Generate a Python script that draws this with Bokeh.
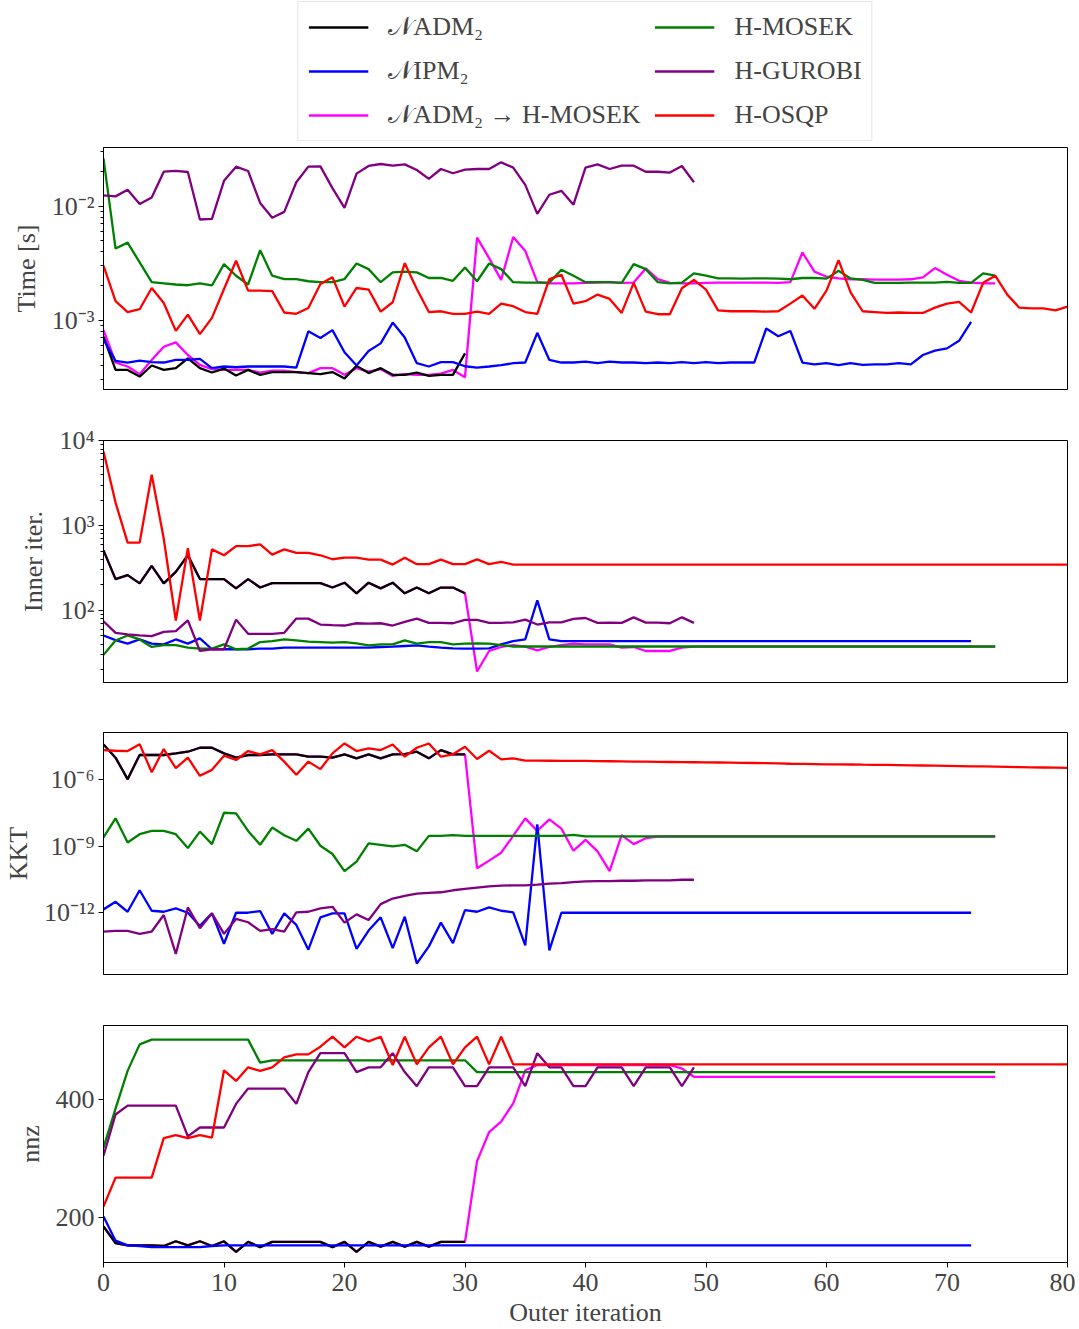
from bokeh.plotting import figure
from bokeh.models import Range1d, FixedTicker, CustomJSTickFormatter, Legend, LegendItem
from bokeh.layouts import column
from bokeh.embed import file_html
from bokeh.resources import INLINE

FONT = "Liberation Serif"

# ---------------- data ----------------
labels = ["𝒩ADM₂", "𝒩IPM₂", "𝒩ADM₂ → H-MOSEK", "H-MOSEK", "H-GUROBI", "H-OSQP"]
colors = ["black", "blue", "magenta", "green", "purple", "red"]
x_ticks = [0, 10, 20, 30, 40, 50, 60, 70, 80]
nnz_ticks = [200, 400]

# Time [s]
time_nadm = [7.2e-4, 3.67e-4, 3.67e-4, 3.21e-4, 4.01e-4, 3.67e-4, 3.8e-4, 4.64e-4, 3.8e-4, 3.48e-4,
             3.77e-4, 3.28e-4, 3.67e-4, 3.32e-4, 3.51e-4, 3.51e-4, 3.51e-4, 3.44e-4, 3.37e-4, 3.51e-4,
             3.09e-4, 3.98e-4, 3.44e-4, 3.8e-4, 3.32e-4, 3.32e-4, 3.48e-4, 3.25e-4, 3.32e-4, 3.32e-4,
             5.13e-4]
time_nipm = [6.8e-4, 4.4e-4, 4.26e-4, 4.43e-4, 4.29e-4, 4.26e-4, 4.49e-4, 4.49e-4, 4.58e-4, 3.8e-4,
             3.93e-4, 3.87e-4, 3.93e-4, 3.93e-4, 3.93e-4, 3.93e-4, 3.84e-4, 8.0e-4, 7.0e-4, 8.2e-4,
             5.24e-4, 4.01e-4, 5.38e-4, 6.27e-4, 9.55e-4, 7.07e-4, 4.2e-4, 3.93e-4, 4.29e-4, 4.29e-4,
             3.95e-4, 3.84e-4, 3.93e-4, 4.04e-4, 4.2e-4, 4.26e-4, 7.76e-4, 4.49e-4, 4.26e-4, 4.26e-4,
             4.34e-4, 4.2e-4, 4.34e-4, 4.26e-4, 4.26e-4, 4.2e-4, 4.26e-4, 4.2e-4, 4.29e-4, 4.2e-4,
             4.29e-4, 4.2e-4, 4.26e-4, 4.26e-4, 4.26e-4, 8.47e-4, 7.25e-4, 8.06e-4, 4.26e-4, 4.11e-4,
             4.2e-4, 4.04e-4, 4.2e-4, 4.07e-4, 4.11e-4, 4.11e-4, 4.2e-4, 4.11e-4, 4.96e-4, 5.41e-4,
             5.67e-4, 6.61e-4, 9.67e-4]
time_switch = [8.2e-4, 4.26e-4, 3.93e-4, 3.37e-4, 4.49e-4, 5.86e-4, 6.4e-4, 4.96e-4, 4.06e-4, 3.73e-4,
               3.67e-4, 3.67e-4, 3.67e-4, 3.48e-4, 3.62e-4, 3.62e-4, 3.51e-4, 3.44e-4, 3.8e-4, 3.8e-4,
               3.32e-4, 3.8e-4, 3.55e-4, 3.73e-4, 3.25e-4, 3.37e-4, 3.32e-4, 3.32e-4, 3.41e-4, 3.67e-4,
               3.17e-4, 5.31e-3, 3.51e-3, 2.26e-3, 5.38e-3, 4.06e-3, 2.16e-3, 2.11e-3, 2.11e-3, 2.11e-3,
               2.13e-3, 2.14e-3, 2.16e-3, 2.13e-3, 2.14e-3, 2.85e-3, 2.30e-3, 2.13e-3, 2.11e-3, 2.11e-3,
               2.13e-3, 2.14e-3, 2.14e-3, 2.14e-3, 2.14e-3, 2.14e-3, 2.13e-3, 2.16e-3, 3.93e-3, 2.67e-3,
               2.41e-3, 2.33e-3, 2.29e-3, 2.29e-3, 2.27e-3, 2.27e-3, 2.27e-3, 2.29e-3, 2.38e-3, 2.87e-3,
               2.51e-3, 2.22e-3, 2.14e-3, 2.11e-3, 2.11e-3]
time_mosek = [2.63e-2, 4.26e-3, 4.80e-3, 3.22e-3, 2.16e-3, 2.11e-3, 2.06e-3, 2.03e-3, 2.11e-3, 2.02e-3,
              3.11e-3, 2.46e-3, 2.06e-3, 4.12e-3, 2.46e-3, 2.30e-3, 2.30e-3, 2.20e-3, 2.16e-3, 2.16e-3,
              2.30e-3, 3.15e-3, 2.81e-3, 2.16e-3, 2.63e-3, 2.67e-3, 2.63e-3, 2.35e-3, 2.35e-3, 2.22e-3,
              2.91e-3, 2.20e-3, 3.15e-3, 2.81e-3, 2.16e-3, 2.14e-3, 2.14e-3, 2.14e-3, 2.78e-3, 2.46e-3,
              2.16e-3, 2.16e-3, 2.16e-3, 2.13e-3, 3.11e-3, 2.81e-3, 2.16e-3, 2.11e-3, 2.14e-3, 2.58e-3,
              2.46e-3, 2.33e-3, 2.33e-3, 2.32e-3, 2.33e-3, 2.33e-3, 2.32e-3, 2.29e-3, 2.35e-3, 2.36e-3,
              2.32e-3, 2.72e-3, 2.33e-3, 2.26e-3, 2.13e-3, 2.13e-3, 2.13e-3, 2.14e-3, 2.14e-3, 2.14e-3,
              2.17e-3, 2.13e-3, 2.13e-3, 2.58e-3, 2.46e-3]
time_gurobi = [0.01246, 0.01222, 0.01396, 0.01048, 0.01197, 0.02014, 0.02042, 0.0200, 0.00766, 0.00776,
               0.01672, 0.02228, 0.0204, 0.0107, 0.00792, 0.00893, 0.01627, 0.0223, 0.0224, 0.01443,
               0.00967, 0.01936, 0.02258, 0.0235, 0.0227, 0.02334, 0.02083, 0.0174, 0.02125, 0.0195,
               0.02098, 0.02125, 0.02125, 0.0243, 0.02184, 0.01543, 0.00858, 0.01263, 0.01368, 0.01034,
               0.02184, 0.02334, 0.02125, 0.0227, 0.0227, 0.0201, 0.0201, 0.01975, 0.02258, 0.01627]
time_osqp = [3.01e-3, 1.47e-3, 1.18e-3, 1.25e-3, 1.92e-3, 1.42e-3, 8.07e-4, 1.12e-3, 7.55e-4, 1.05e-3,
             1.88e-3, 3.33e-3, 1.82e-3, 1.82e-3, 1.80e-3, 1.17e-3, 1.14e-3, 1.28e-3, 2.08e-3, 2.38e-3,
             1.32e-3, 1.92e-3, 1.86e-3, 1.19e-3, 1.44e-3, 3.17e-3, 1.88e-3, 1.18e-3, 1.20e-3, 1.14e-3,
             1.14e-3, 1.19e-3, 1.14e-3, 1.40e-3, 1.33e-3, 1.18e-3, 1.14e-3, 2.30e-3, 2.51e-3, 1.40e-3,
             1.47e-3, 1.68e-3, 1.54e-3, 1.16e-3, 2.13e-3, 1.19e-3, 1.13e-3, 1.13e-3, 1.91e-3, 2.26e-3,
             1.86e-3, 1.22e-3, 1.20e-3, 1.20e-3, 1.20e-3, 1.19e-3, 1.20e-3, 1.40e-3, 1.65e-3, 1.26e-3,
             1.82e-3, 3.37e-3, 1.76e-3, 1.20e-3, 1.18e-3, 1.16e-3, 1.17e-3, 1.16e-3, 1.16e-3, 1.29e-3,
             1.40e-3, 1.45e-3, 1.17e-3, 2.13e-3, 2.46e-3, 1.68e-3, 1.29e-3, 1.27e-3, 1.27e-3, 1.22e-3,
             1.32e-3]

# Inner iterations
iter_nadm = [511, 234, 261, 208, 335, 208, 285, 447, 234, 234,
             234, 182, 234, 186, 210, 210, 210, 210, 210, 186,
             212, 159, 212, 182, 212, 159, 186, 159, 186, 186,
             159]
iter_nipm = [50.6, 44.6, 40.5, 45.4, 40.5, 39.7, 45.4, 40.5, 46.7, 34.8,
             34.8, 34.8, 34.8, 35.4, 35.4, 36.3, 36.3, 36.3, 36.3, 36.3,
             36.3, 36.3, 36.3, 37.0, 37.3, 38.0, 38.7, 37.3, 36.3, 35.7,
             35.4, 35.4, 35.7, 39.7, 43.4, 45.4, 131, 45.4, 43.4, 43.4,
             43.4, 43.4, 43.4, 43.4, 43.4, 43.4, 43.4, 43.4, 43.4, 43.4,
             43.4, 43.4, 43.4, 43.4, 43.4, 43.4, 43.4, 43.4, 43.4, 43.4,
             43.4, 43.4, 43.4, 43.4, 43.4, 43.4, 43.4, 43.4, 43.4, 43.4,
             43.4, 43.4, 43.4]
iter_switch = [511, 234, 261, 208, 335, 208, 285, 447, 234, 234,
               234, 182, 234, 186, 210, 210, 210, 210, 210, 186,
               212, 159, 212, 182, 212, 159, 186, 159, 186, 186,
               159, 19.0, 33.2, 37.0, 39.0, 37.3, 33.8, 37.0, 39.0, 40.5,
               39.7, 39.7, 39.7, 36.3, 37.0, 33.2, 33.2, 33.2, 36.3, 37.3,
               37.3, 37.3, 37.3, 37.3, 37.3, 37.3, 37.3, 37.3, 37.3, 37.3,
               37.3, 37.3, 37.3, 37.3, 37.3, 37.3, 37.3, 37.3, 37.3, 37.3,
               37.3, 37.3, 37.3, 37.3, 37.3]
iter_mosek = [29.9, 44.2, 50.6, 45.4, 37.0, 39.0, 39.0, 36.3, 35.4, 35.4,
              39.7, 34.8, 35.4, 42.3, 43.4, 45.4, 44.2, 42.7, 42.3, 41.6,
              42.3, 40.8, 38.7, 39.7, 39.7, 44.2, 40.5, 42.3, 42.3, 39.7,
              40.5, 40.8, 40.5, 39.0, 37.5, 37.5, 37.5, 37.5, 37.5, 37.5,
              37.5, 37.5, 37.5, 37.5, 37.5, 37.5, 37.5, 37.5, 37.5, 37.5,
              37.5, 37.5, 37.5, 37.5, 37.5, 37.5, 37.5, 37.5, 37.5, 37.5,
              37.5, 37.5, 37.5, 37.5, 37.5, 37.5, 37.5, 37.5, 37.5, 37.5,
              37.5, 37.5, 37.5, 37.5, 37.5]
iter_gurobi = [74.5, 54.4, 52.0, 50.6, 49.7, 55.9, 56.9, 76.4, 33.2, 34.8,
               34.8, 77.8, 52.9, 52.9, 52.9, 54.4, 80.0, 80.0, 68.1, 66.9,
               66.3, 70.5, 69.9, 70.5, 66.3, 73.1, 80.0, 71.2, 71.2, 70.5,
               77.1, 77.1, 71.2, 71.2, 72.4, 77.8, 68.1, 72.4, 72.4, 79.3,
               81.3, 71.2, 71.8, 71.2, 82.8, 71.8, 71.8, 70.5, 82.8, 71.2]
iter_osqp = [7500, 1870, 630, 630, 4000, 700, 76, 543, 76, 525,
             447, 574, 574, 600, 455, 525, 476, 476, 447, 401,
             419, 419, 397, 397, 347, 419, 351, 351, 397, 351,
             351, 400, 351, 373, 347, 347, 347, 347, 347, 347,
             347, 347, 347, 347, 347, 347, 347, 347, 347, 347,
             347, 347, 347, 347, 347, 347, 347, 347, 347, 347,
             347, 347, 347, 347, 347, 347, 347, 347, 347, 347,
             347, 347, 347, 347, 347, 347, 347, 347, 347, 347,
             347]

# KKT residual
kkt_nadm = [3.76e-5, 9.57e-6, 1.03e-6, 1.26e-5, 1.26e-5, 1.26e-5, 1.49e-5, 1.77e-5, 2.67e-5, 2.67e-5,
            1.49e-5, 9.57e-6, 1.26e-5, 1.26e-5, 1.35e-5, 1.35e-5, 1.35e-5, 1.06e-5, 1.06e-5, 9.57e-6,
            1.35e-5, 8.93e-6, 1.35e-5, 8.93e-6, 1.35e-5, 1.39e-5, 1.77e-5, 8.93e-6, 2.10e-5, 1.35e-5,
            1.35e-5]
kkt_nipm = [1.40e-12, 3.07e-12, 1.10e-12, 1.02e-11, 1.22e-12, 1.10e-12, 1.55e-12, 9.93e-13, 2.53e-13, 9.27e-13,
            3.98e-14, 9.93e-13, 9.93e-13, 1.18e-12, 1.11e-13, 9.27e-13, 2.80e-13, 2.15e-14, 6.15e-13, 9.27e-13,
            9.27e-13, 2.31e-14, 1.57e-13, 6.15e-13, 2.55e-14, 6.59e-13, 5.12e-15, 3.03e-14, 3.56e-13, 4.27e-14,
            1.31e-12, 1.10e-12, 1.72e-12, 1.22e-12, 1.03e-12, 3.36e-14, 9.53e-9, 2.01e-14, 9.93e-13, 9.93e-13,
            9.93e-13, 9.93e-13, 9.93e-13, 9.93e-13, 9.93e-13, 9.93e-13, 9.93e-13, 9.93e-13, 9.93e-13, 9.93e-13,
            9.93e-13, 9.93e-13, 9.93e-13, 9.93e-13, 9.93e-13, 9.93e-13, 9.93e-13, 9.93e-13, 9.93e-13, 9.93e-13,
            9.93e-13, 9.93e-13, 9.93e-13, 9.93e-13, 9.93e-13, 9.93e-13, 9.93e-13, 9.93e-13, 9.93e-13, 9.93e-13,
            9.93e-13, 9.93e-13, 9.93e-13]
kkt_switch = [3.76e-5, 9.57e-6, 1.03e-6, 1.26e-5, 1.26e-5, 1.26e-5, 1.49e-5, 1.77e-5, 2.67e-5, 2.67e-5,
              1.49e-5, 9.57e-6, 1.26e-5, 1.26e-5, 1.35e-5, 1.35e-5, 1.35e-5, 1.06e-5, 1.06e-5, 9.57e-6,
              1.35e-5, 8.93e-6, 1.35e-5, 8.93e-6, 1.35e-5, 1.39e-5, 1.77e-5, 8.93e-6, 2.10e-5, 1.35e-5,
              1.35e-5, 1.01e-10, 2.21e-10, 5.02e-10, 2.88e-9, 1.77e-8, 4.81e-9, 1.59e-8, 6.11e-9, 6.17e-10,
              1.91e-9, 5.77e-10, 7.4e-11, 3.08e-9, 1.22e-9, 2.26e-9, 2.69e-9, 2.69e-9, 2.69e-9, 2.69e-9,
              2.69e-9, 2.69e-9, 2.69e-9, 2.69e-9, 2.69e-9, 2.69e-9, 2.69e-9, 2.69e-9, 2.69e-9, 2.69e-9,
              2.69e-9, 2.69e-9, 2.69e-9, 2.69e-9, 2.69e-9, 2.69e-9, 2.69e-9, 2.69e-9, 2.69e-9, 2.69e-9,
              2.69e-9, 2.69e-9, 2.69e-9, 2.69e-9, 2.69e-9]
kkt_mosek = [2.43e-9, 1.77e-8, 1.45e-9, 3.41e-9, 4.81e-9, 4.81e-9, 3.41e-9, 8.11e-10, 4.49e-9, 1.22e-9,
             3.16e-8, 2.95e-8, 4.81e-9, 1.14e-9, 6.78e-9, 3.08e-9, 1.72e-9, 6.11e-9, 1.03e-9, 4.39e-10,
             7.4e-11, 2.0e-10, 1.31e-9, 1.14e-9, 9.63e-10, 1.14e-9, 5.77e-10, 2.88e-9, 2.88e-9, 3.08e-9,
             2.88e-9, 2.88e-9, 2.88e-9, 2.88e-9, 2.88e-9, 2.88e-9, 2.88e-9, 2.88e-9, 2.88e-9, 3.19e-9,
             2.75e-9, 2.75e-9, 2.75e-9, 2.75e-9, 2.75e-9, 2.75e-9, 2.75e-9, 2.75e-9, 2.75e-9, 2.75e-9,
             2.75e-9, 2.75e-9, 2.75e-9, 2.75e-9, 2.75e-9, 2.75e-9, 2.75e-9, 2.75e-9, 2.75e-9, 2.75e-9,
             2.75e-9, 2.75e-9, 2.75e-9, 2.75e-9, 2.75e-9, 2.75e-9, 2.75e-9, 2.75e-9, 2.75e-9, 2.75e-9,
             2.75e-9, 2.75e-9, 2.75e-9, 2.75e-9, 2.75e-9]
kkt_gurobi = [1.41e-13, 1.51e-13, 1.51e-13, 1.11e-13, 1.41e-13, 7.82e-13, 1.38e-14, 1.72e-12, 2.0e-13, 9.27e-13,
              1.11e-13, 5.2e-13, 3.7e-13, 1.51e-13, 1.80e-13, 1.41e-13, 1.03e-12, 1.10e-12, 1.55e-12, 1.84e-12,
              3.56e-13, 8.37e-13, 4.67e-13, 2.42e-12, 4.32e-12, 5.69e-12, 7.23e-12, 7.74e-12, 8.29e-12, 1.02e-11,
              1.17e-11, 1.34e-11, 1.53e-11, 1.64e-11, 1.70e-11, 1.70e-11, 1.82e-11, 2.02e-11, 2.16e-11, 2.39e-11,
              2.57e-11, 2.65e-11, 2.65e-11, 2.74e-11, 2.74e-11, 2.84e-11, 2.84e-11, 2.84e-11, 3.04e-11, 3.04e-11]
kkt_osqp = [2.10e-5, 1.96e-5, 1.90e-5, 3.89e-5, 2.12e-6, 2.33e-5, 3.20e-6, 9.57e-6, 1.46e-6, 2.70e-6,
            1.17e-5, 7.54e-6, 1.90e-5, 1.35e-5, 2.10e-5, 6.34e-6, 1.61e-6, 6.34e-6, 2.92e-6, 1.49e-5,
            4.17e-5, 1.90e-5, 2.49e-5, 2.10e-5, 3.76e-5, 1.06e-5, 2.67e-5, 4.17e-5, 1.06e-5, 1.35e-5,
            2.96e-5, 8.34e-6, 1.96e-5, 8.06e-6, 8.93e-6, 7.0e-6, 6.98e-6, 6.95e-6, 6.9e-6, 6.85e-6,
            6.8e-6, 6.7e-6, 6.6e-6, 6.5e-6, 6.4e-6, 6.3e-6, 6.2e-6, 6.1e-6, 6.0e-6, 5.95e-6,
            5.9e-6, 5.8e-6, 5.7e-6, 5.6e-6, 5.5e-6, 5.4e-6, 5.3e-6, 5.1e-6, 5.0e-6, 4.9e-6,
            4.8e-6, 4.75e-6, 4.7e-6, 4.6e-6, 4.55e-6, 4.5e-6, 4.4e-6, 4.3e-6, 4.25e-6, 4.2e-6,
            4.1e-6, 4.0e-6, 3.9e-6, 3.85e-6, 3.8e-6, 3.7e-6, 3.6e-6, 3.5e-6, 3.45e-6, 3.4e-6,
            3.3e-6]

# nnz
nnz_nadm = [184, 156, 152, 152, 152, 151, 159, 152, 159, 151,
            159, 141, 158, 149, 158, 158, 158, 158, 158, 149,
            158, 141, 158, 150, 158, 150, 158, 150, 158, 158,
            158]
nnz_nipm = [201, 160, 152, 151, 149, 149, 149, 149, 149, 151,
            152, 152, 152, 152, 152, 152, 152, 152, 152, 152,
            152, 152, 152, 152, 152, 152, 152, 152, 152, 152,
            152, 152, 152, 152, 152, 152, 152, 152, 152, 152,
            152, 152, 152, 152, 152, 152, 152, 152, 152, 152,
            152, 152, 152, 152, 152, 152, 152, 152, 152, 152,
            152, 152, 152, 152, 152, 152, 152, 152, 152, 152,
            152, 152, 152]
nnz_switch = [184, 156, 152, 152, 152, 151, 159, 152, 159, 151,
              159, 141, 158, 149, 158, 158, 158, 158, 158, 149,
              158, 141, 158, 150, 158, 150, 158, 150, 158, 158,
              158, 295, 344, 362, 393, 449, 458, 458, 458, 458,
              458, 458, 458, 458, 458, 458, 458, 458, 452, 438,
              438, 438, 438, 438, 438, 438, 438, 438, 438, 438,
              438, 438, 438, 438, 438, 438, 438, 438, 438, 438,
              438, 438, 438, 438, 438]
nnz_mosek = [318, 384, 448, 493, 501, 501, 501, 501, 501, 501,
             501, 501, 501, 462, 466, 466, 466, 466, 466, 466,
             466, 466, 466, 466, 466, 466, 466, 466, 466, 466,
             466, 446, 446, 446, 446, 446, 446, 446, 446, 446,
             446, 446, 446, 446, 446, 446, 446, 446, 446, 446,
             446, 446, 446, 446, 446, 446, 446, 446, 446, 446,
             446, 446, 446, 446, 446, 446, 446, 446, 446, 446,
             446, 446, 446, 446, 446]
nnz_gurobi = [304, 374, 389, 389, 389, 389, 389, 337, 352, 352,
              352, 392, 418, 418, 418, 418, 392, 446, 478, 478,
              478, 446, 454, 454, 478, 446, 422, 454, 454, 454,
              422, 422, 454, 454, 454, 422, 478, 454, 454, 422,
              422, 454, 454, 454, 422, 454, 454, 454, 422, 454]
nnz_osqp = [218, 267, 267, 267, 267, 334, 339, 334, 339, 335,
            449, 431, 454, 448, 454, 471, 476, 476, 489, 506,
            488, 506, 498, 506, 458, 506, 459, 488, 506, 459,
            488, 506, 459, 506, 459, 459, 459, 459, 459, 459,
            459, 459, 459, 459, 459, 459, 459, 459, 459, 459,
            459, 459, 459, 459, 459, 459, 459, 459, 459, 459,
            459, 459, 459, 459, 459, 459, 459, 459, 459, 459,
            459, 459, 459, 459, 459, 459, 459, 459, 459, 459,
            459]

# ---------------- styling helpers ----------------
W = 1075
LEFT = 102
RIGHT = 8
x_range = Range1d(0, 80)

POW_FMT = CustomJSTickFormatter(code="""
const sup = {'-':'\u207b','0':'\u2070','1':'\u00b9','2':'\u00b2','3':'\u00b3','4':'\u2074',
             '5':'\u2075','6':'\u2076','7':'\u2077','8':'\u2078','9':'\u2079'};
const e = Math.round(Math.log10(tick));
return '10' + String(e).split('').map(c => sup[c]).join('');
""")


def minor_log(lo_exp, hi_exp):
    return [m * 10.0 ** e for e in range(lo_exp, hi_exp + 1) for m in range(2, 10)]


def make_fig(ylabel, yr, log, height, top, bottom, last=False):
    p = figure(width=W, height=height, x_range=x_range, y_range=Range1d(*yr),
               y_axis_type="log" if log else "linear",
               output_backend="svg", toolbar_location=None,
               min_border_left=LEFT, min_border_right=RIGHT,
               min_border_top=top, min_border_bottom=bottom)
    p.xgrid.visible = False
    p.ygrid.visible = False
    p.outline_line_color = "black"
    p.outline_line_width = 1
    p.outline_line_alpha = 1
    p.background_fill_color = "white"
    p.border_fill_color = "white"
    for ax in p.yaxis:
        ax.axis_label = ylabel
        ax.axis_label_text_font = FONT
        ax.axis_label_text_font_size = "26px"
        ax.axis_label_text_font_style = "normal"
        ax.axis_label_standoff = 8
        ax.major_label_text_font = FONT
        ax.major_label_text_font_size = "26px"
        ax.major_label_standoff = 4
        ax.axis_line_color = "black"
        ax.major_tick_in = 0
        ax.major_tick_out = 5
        ax.minor_tick_in = 0
        ax.minor_tick_out = 3
    if last:
        xa = p.xaxis[0]
        xa.ticker = FixedTicker(ticks=x_ticks)
        xa.axis_label = "Outer iteration"
        xa.axis_label_text_font = FONT
        xa.axis_label_text_font_size = "26px"
        xa.axis_label_text_font_style = "normal"
        xa.axis_label_standoff = 4
        xa.major_label_text_font = FONT
        xa.major_label_text_font_size = "26px"
        xa.major_label_standoff = 6
        xa.major_tick_in = 0
        xa.major_tick_out = 5
        xa.axis_line_color = "black"
    else:
        p.xaxis.visible = False
    return p


def draw(p, series):
    # magenta drawn first so the others lie on top where they coincide
    order = [2, 0, 1, 3, 4, 5]
    for k in order:
        ys = series[k]
        p.line(list(range(len(ys))), ys, line_color=colors[k], line_width=2.3)


time_series = [time_nadm, time_nipm, time_switch, time_mosek, time_gurobi, time_osqp]

# legend-only strip on top (single-point lines draw nothing but give legend glyphs)
pl = figure(width=W, height=141, x_range=Range1d(0, 80), y_range=Range1d(2.47e-4, 3.28e-2),
            y_axis_type="log", output_backend="svg", toolbar_location=None,
            x_axis_location=None, y_axis_location=None,
            min_border_left=LEFT, min_border_right=RIGHT, min_border_top=0, min_border_bottom=0)
pl.xgrid.visible = False
pl.ygrid.visible = False
pl.outline_line_color = None
rl = [pl.line(x=list(range(1)), y=time_series[k][:1], line_color=colors[k], line_width=2.3)
      for k in range(6)]
legend = Legend(items=[LegendItem(label=labels[k], renderers=[rl[k]]) for k in range(6)],
                ncols=2, location="center", orientation="vertical")
legend.label_text_font = FONT
legend.label_text_font_size = "26px"
legend.glyph_width = 60
legend.glyph_height = 22
legend.label_standoff = 20
legend.spacing = 14
legend.padding = 10
legend.margin = 0
legend.border_line_color = "#d0d0d0"
legend.border_line_width = 1
legend.background_fill_color = "white"
legend.background_fill_alpha = 1
pl.add_layout(legend, "center")

p1 = make_fig("Time [s]", (2.47e-4, 3.28e-2), True, 6 + 242 + 25, 6, 25)
p1.yaxis[0].ticker = FixedTicker(ticks=[1e-3, 1e-2], minor_ticks=minor_log(-4, -2))
p1.yaxis[0].formatter = POW_FMT
draw(p1, time_series)

p2 = make_fig("Inner iter.", (14.1, 1.01e4), True, 26 + 242 + 25, 26, 25)
p2.yaxis[0].ticker = FixedTicker(ticks=[1e2, 1e3, 1e4], minor_ticks=minor_log(1, 3))
p2.yaxis[0].formatter = POW_FMT
draw(p2, [iter_nadm, iter_nipm, iter_switch, iter_mosek, iter_gurobi, iter_osqp])

p3 = make_fig("KKT", (1.64e-15, 1.3e-4), True, 25 + 242 + 25, 25, 25)
p3.yaxis[0].ticker = FixedTicker(ticks=[1e-12, 1e-9, 1e-6], minor_ticks=[])
p3.yaxis[0].formatter = POW_FMT
draw(p3, [kkt_nadm, kkt_nipm, kkt_switch, kkt_mosek, kkt_gurobi, kkt_osqp])

p4 = make_fig("nnz", (123, 525), False, 26 + 242 + 62, 26, 62, last=True)
p4.yaxis[0].ticker = FixedTicker(ticks=nnz_ticks)
draw(p4, [nnz_nadm, nnz_nipm, nnz_switch, nnz_mosek, nnz_gurobi, nnz_osqp])

layout = column(pl, p1, p2, p3, p4)
open("out.html", "w").write(file_html(layout, INLINE))
